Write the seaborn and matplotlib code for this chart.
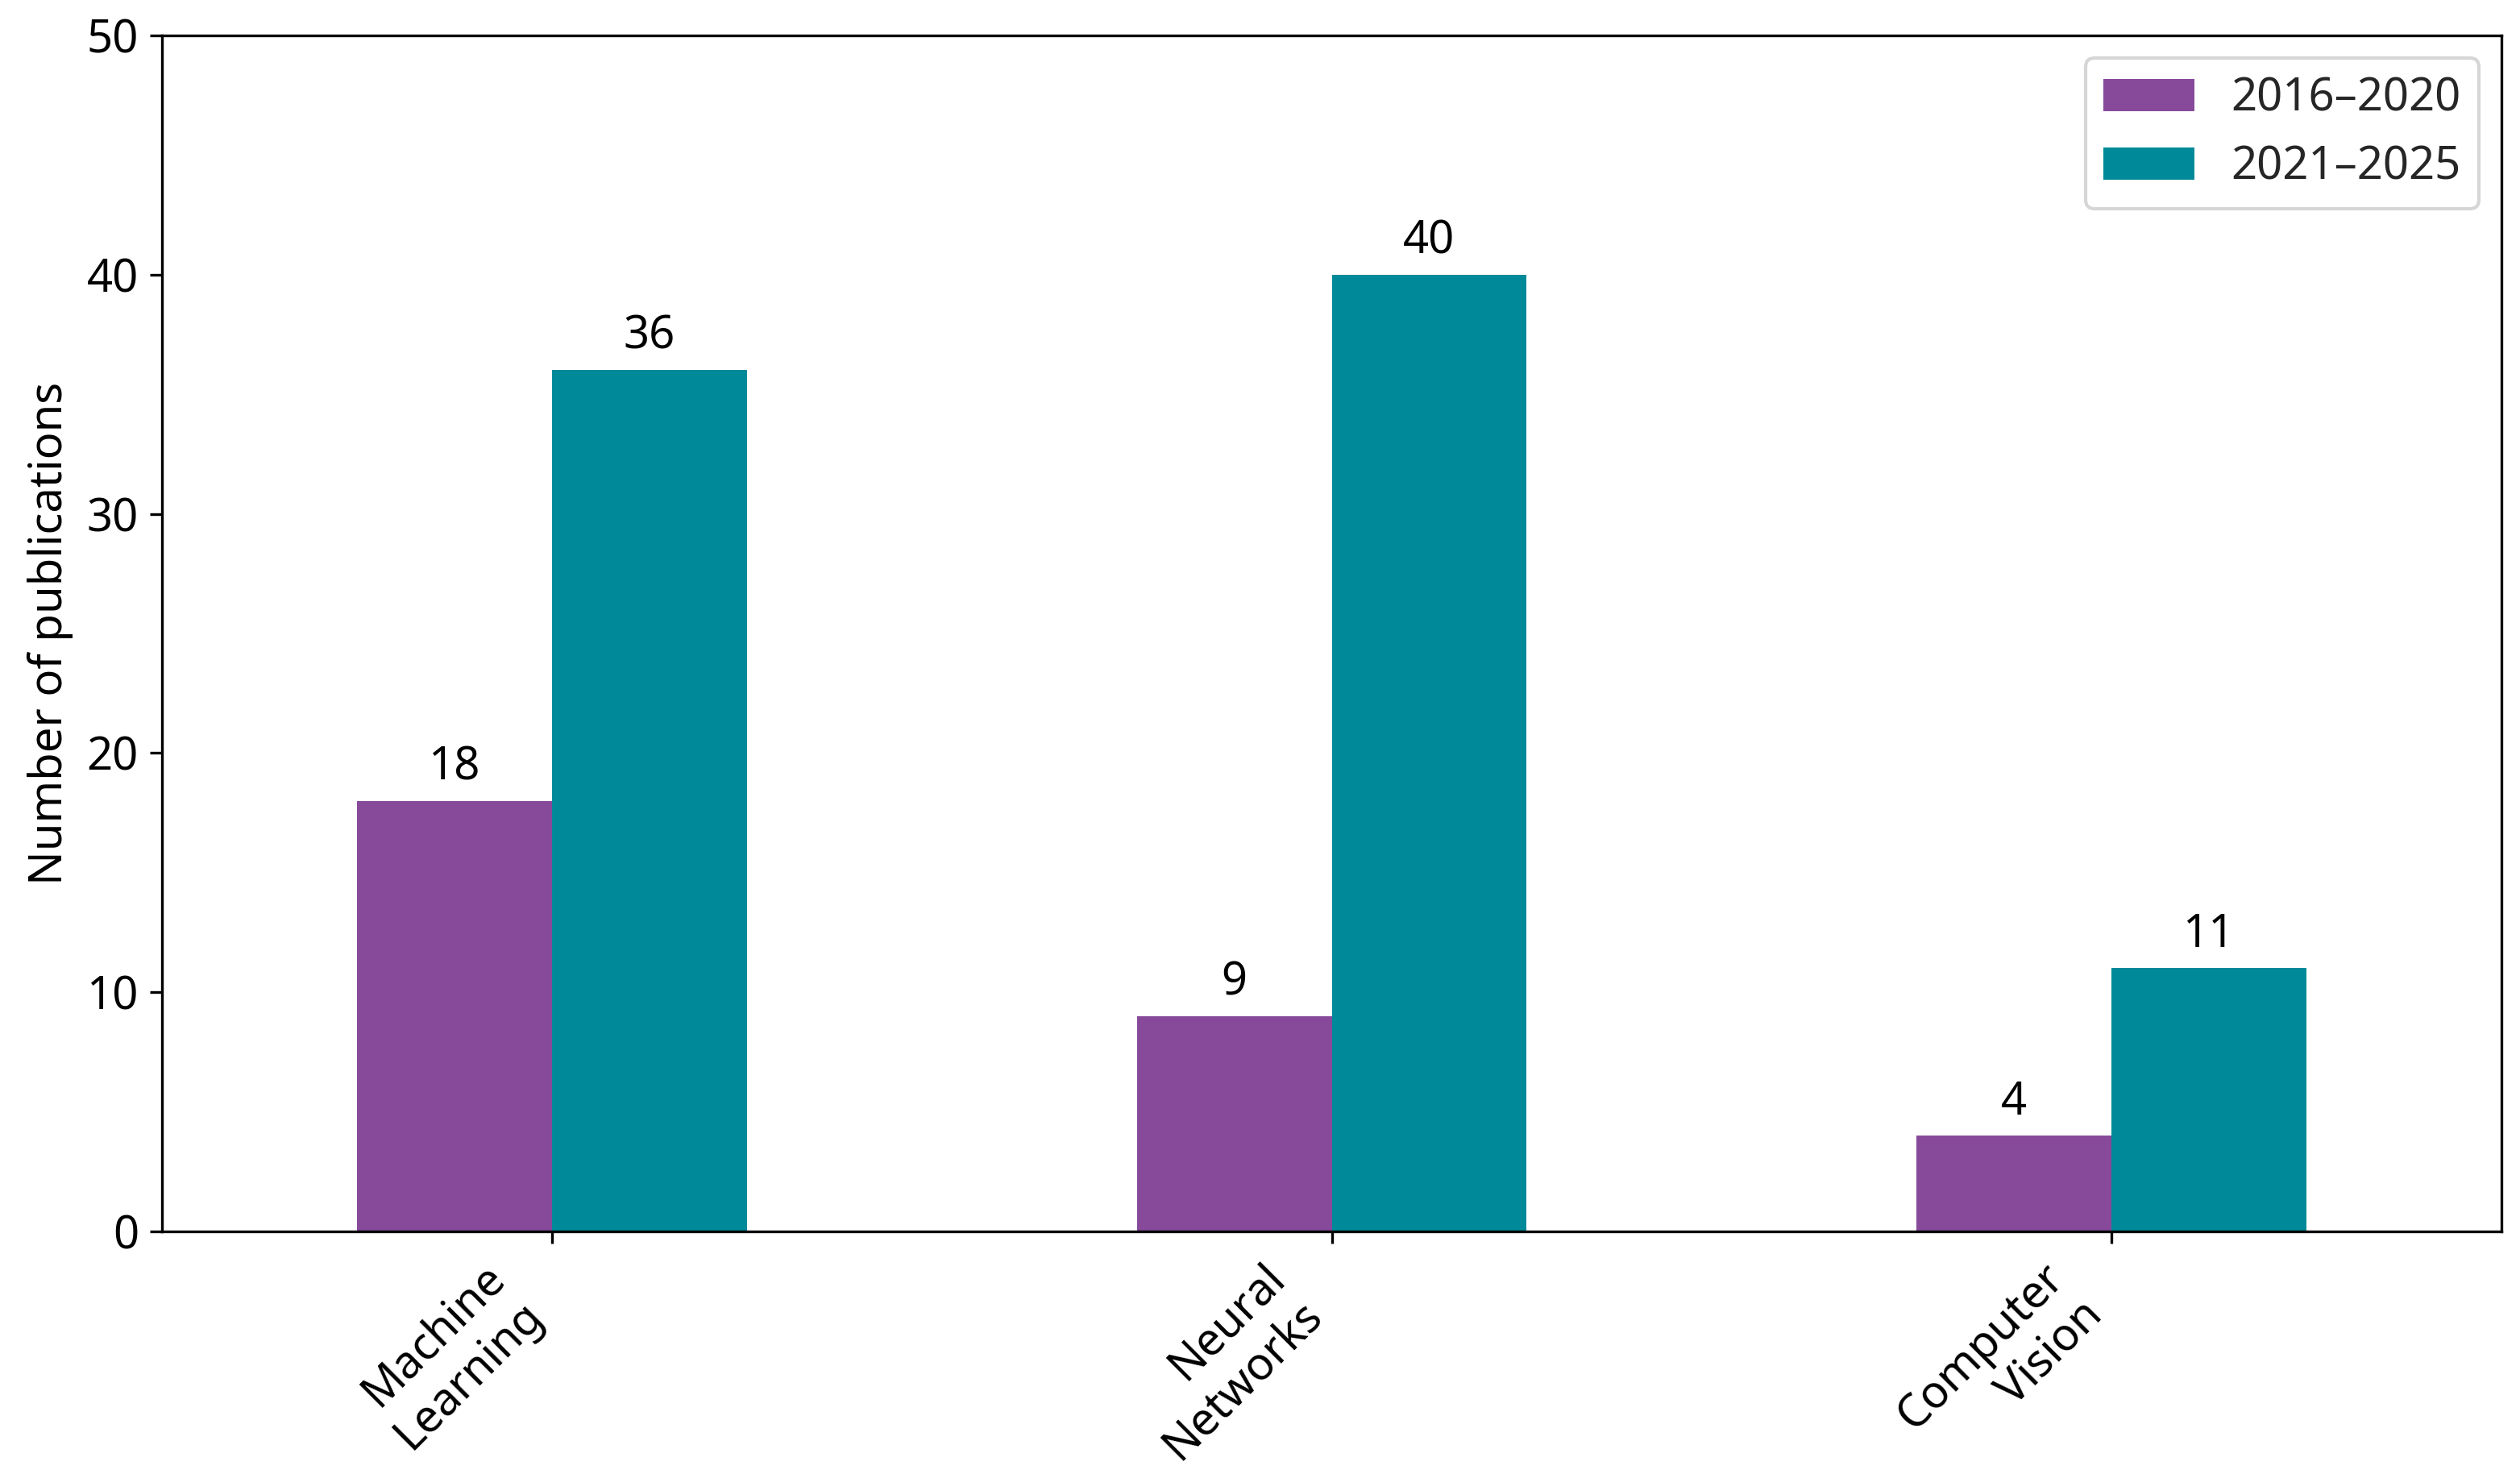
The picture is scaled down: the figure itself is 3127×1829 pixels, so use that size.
import matplotlib
matplotlib.use("Agg")
import matplotlib.pyplot as plt
import seaborn as sns
import pandas as pd

categories = ["Machine\nLearning", "Neural\nNetworks", "Computer\nVision"]
periods = ["2016–2020", "2021–2025"]
values_2016_2020 = [18, 9, 4]
values_2021_2025 = [36, 40, 11]
y_ticks = [0, 10, 20, 30, 40, 50]
palette = ["#874a9a", "#008a99"]

df = pd.DataFrame({
    "Category": categories * 2,
    "Period": [periods[0]] * 3 + [periods[1]] * 3,
    "Count": values_2016_2020 + values_2021_2025,
})

FS = 13.5

sns.set_theme(style="ticks")
plt.rcParams["font.family"] = ["Noto Sans", "DejaVu Sans"]
plt.rcParams["axes.edgecolor"] = "black"
plt.rcParams["xtick.color"] = "black"
plt.rcParams["ytick.color"] = "black"

fig, ax = plt.subplots(figsize=(3128 / 300, 1829 / 300), dpi=300)
fig.subplots_adjust(left=0.0643, right=0.9923, top=0.976, bottom=0.1646)

sns.barplot(data=df, x="Category", y="Count", hue="Period", palette=palette,
            width=0.5, gap=0, saturation=1, ax=ax, edgecolor="none")

for cont in ax.containers:
    ax.bar_label(cont, padding=3, fontsize=FS, color="black")

ax.set_ylim(0, 50)
ax.set_xlim(-0.5, 2.5)
ax.set_yticks(y_ticks)
ax.set_xlabel("")
ax.set_ylabel("Number of publications", fontsize=FS, color="black")
ax.tick_params(axis="both", labelsize=FS, width=0.8, length=3.5)
plt.setp(ax.get_xticklabels(), rotation=45, ha="right")
for s in ax.spines.values():
    s.set_visible(True)
    s.set_linewidth(0.8)
    s.set_color("black")

leg = ax.legend(loc="upper right", fontsize=FS, title=None, frameon=True)
leg.get_frame().set_edgecolor("#cccccc")

fig.savefig("out.png", dpi=300)
